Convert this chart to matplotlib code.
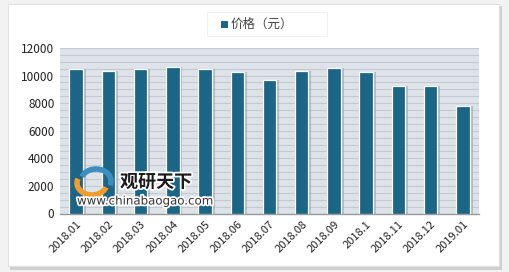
import matplotlib
matplotlib.use("Agg")
import matplotlib.pyplot as plt
import matplotlib.patheffects as pe
from matplotlib.patches import Rectangle, Arc
import numpy as np

plt.rcParams['font.family'] = ['Noto Sans CJK SC', 'DejaVu Sans']

categories = ["2018.01", "2018.02", "2018.03", "2018.04", "2018.05", "2018.06", "2018.07",
              "2018.08", "2018.09", "2018.1", "2018.11", "2018.12", "2019.01"]
prices = [10500, 10350, 10500, 10650, 10450, 10250, 9650, 10350, 10550, 10250, 9250, 9250, 7800]
yticks = [0, 2000, 4000, 6000, 8000, 10000, 12000]
series_name = "价格（元）"

W, H = 510, 272
fig = plt.figure(figsize=(W/100, H/100), dpi=100)
fig.patch.set_facecolor('#f2f2f2')
# white panel with shadow
fig.patches.append(Rectangle((10/W, 1 - 270/H), 492/W, 264/H, transform=fig.transFigure,
                             facecolor='#d0d0d0', edgecolor='none', zorder=0))
fig.patches.append(Rectangle((8/W, 1 - 266/H), 491/W, 262/H, transform=fig.transFigure,
                             facecolor='white', edgecolor='#e0e0e0', lw=0.8, zorder=0))

ax = fig.add_axes([60/W, 1 - 213.5/H, 419/W, 165.5/H])
ax.set_zorder(3)
ax.set_facecolor('#dde3e8')
x = np.arange(len(categories))
# shadow bars
ax.bar(x + 0.08, prices, width=0.44, color='#9aa3ab', alpha=0.6, zorder=2, linewidth=0)
ax.bar(x, prices, width=0.42, color='#1b6587', edgecolor='white', linewidth=0.9, zorder=3)

ax.set_xlim(-0.5, len(categories) - 0.5)
ax.set_ylim(0, 12000)
ax.set_yticks(yticks)
ax.set_yticklabels([str(v) for v in yticks], fontsize=8.5, color='#222222')
ax.set_yticks(np.arange(0, 12001, 500), minor=True)
ax.yaxis.grid(True, which='both', color='#c3cad1', lw=0.8, zorder=1)
ax.set_axisbelow(True)
ax.set_xticks(x)
ax.set_xticklabels(categories, rotation=45, ha='right', rotation_mode='anchor',
                   fontsize=8, color='#222222')
ax.tick_params(axis='both', which='both', length=0, pad=4)
for s in ['top', 'right', 'left']:
    ax.spines[s].set_visible(False)
ax.spines['bottom'].set_color('#999999')
ax.spines['bottom'].set_linewidth(1.0)

# legend
fig.patches.append(Rectangle((207/W, 1 - 36/H), 120/W, 24/H, transform=fig.transFigure,
                             facecolor='white', edgecolor='#eeeeee', lw=0.6, zorder=1))
fig.patches.append(Rectangle((221/W, 1 - 28/H), 7/W, 7/H, transform=fig.transFigure,
                             facecolor='#1b6587', edgecolor='none', zorder=2))
fig.text(231/W, 1 - 24.5/H, series_name, fontsize=9, color='#444444', va='center', ha='left')

# watermark
glow = [pe.withStroke(linewidth=2.5, foreground='white')]
fig.text(120/W, 1 - 182/H, "观研天下", fontsize=13, fontweight='bold', color='#1a1a1a',
         va='center', ha='left', zorder=6, path_effects=glow)
fig.text(77/W, 1 - 201/H, "www.chinabaogao.com", fontsize=8.5, color='#333333',
         va='center', ha='left', zorder=6, family=['DejaVu Sans'], path_effects=glow)
fig.patches.append(Arc((92/W, 1 - 183/H), 30/W, 24/H, theta1=150, theta2=330,
                       transform=fig.transFigure, color='#f39c2c', lw=4, zorder=6))
fig.patches.append(Arc((96/W, 1 - 181/H), 30/W, 24/H, theta1=-30, theta2=150,
                       transform=fig.transFigure, color='#3a8fbf', lw=4, zorder=6))

fig.savefig("out.png", dpi=100)
